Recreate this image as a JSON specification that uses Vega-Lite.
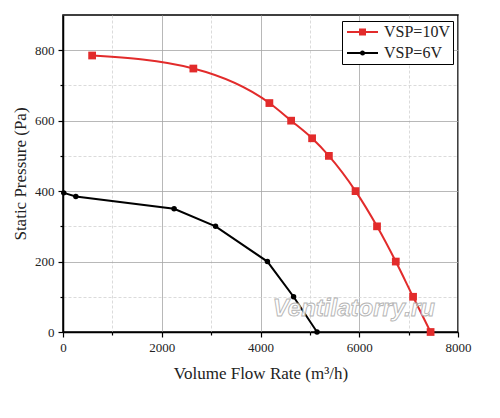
{
  "$schema": "https://vega.github.io/schema/vega-lite/v6.json",
  "width": 395,
  "height": 317,
  "autosize": {"type": "none"},
  "padding": {"left": 63, "top": 15, "right": 42, "bottom": 86},
  "background": "white",
  "config": {
    "view": {"stroke": "black", "strokeWidth": 1.5},
    "font": "Liberation Serif",
    "axis": {
      "domainColor": "black",
      "domainWidth": 1.5,
      "tickColor": "black",
      "tickWidth": 1.2,
      "labelFont": "Liberation Serif",
      "labelFontSize": 13,
      "labelColor": "#222",
      "labelPadding": 4,
      "labelFlush": false,
      "titleFont": "Liberation Serif",
      "titleFontSize": 17,
      "titleFontWeight": "normal",
      "titleColor": "#222",
      "gridWidth": 0.8
    }
  },
  "datasets": {
    "curves": [
      {"series": "VSP=10V", "flow": 590, "pressure": 785},
      {"series": "VSP=10V", "flow": 2640, "pressure": 748},
      {"series": "VSP=10V", "flow": 4180, "pressure": 650},
      {"series": "VSP=10V", "flow": 4620, "pressure": 600},
      {"series": "VSP=10V", "flow": 5045, "pressure": 550},
      {"series": "VSP=10V", "flow": 5385, "pressure": 500},
      {"series": "VSP=10V", "flow": 5925, "pressure": 400},
      {"series": "VSP=10V", "flow": 6360, "pressure": 300},
      {"series": "VSP=10V", "flow": 6740, "pressure": 200},
      {"series": "VSP=10V", "flow": 7090, "pressure": 100},
      {"series": "VSP=10V", "flow": 7445, "pressure": 0},
      {"series": "VSP=6V", "flow": 15, "pressure": 395},
      {"series": "VSP=6V", "flow": 260, "pressure": 385},
      {"series": "VSP=6V", "flow": 2250, "pressure": 350},
      {"series": "VSP=6V", "flow": 3090, "pressure": 300},
      {"series": "VSP=6V", "flow": 4140, "pressure": 200},
      {"series": "VSP=6V", "flow": 4670, "pressure": 100},
      {"series": "VSP=6V", "flow": 5145, "pressure": 0}
    ],
    "watermark": [
      {"label": "Ventilatorry.ru", "flow": 5890, "pressure": 65}
    ]
  },
  "encoding": {
    "x": {
      "field": "flow",
      "type": "quantitative",
      "title": "Volume Flow Rate (m³/h)",
      "scale": {"domain": [0, 8000], "nice": false},
      "axis": {
        "values": [0, 1000, 2000, 3000, 4000, 5000, 6000, 7000, 8000],
        "labelExpr": "datum.value % 2000 === 0 ? datum.label : ''",
        "format": "d",
        "titlePadding": 11,
        "gridDash": {"condition": {"test": "datum.value % 2000 !== 0", "value": [3, 2]}, "value": []},
        "gridColor": {"condition": {"test": "datum.value % 2000 !== 0", "value": "#d2d2d2"}, "value": "#a6a6a6"},
        "tickSize": {"condition": {"test": "datum.value % 2000 !== 0", "value": 3}, "value": 5}
      }
    },
    "y": {
      "field": "pressure",
      "type": "quantitative",
      "title": "Static Pressure (Pa)",
      "scale": {"domain": [0, 900], "nice": false},
      "axis": {
        "values": [0, 100, 200, 300, 400, 500, 600, 700, 800],
        "labelExpr": "datum.value % 200 === 0 ? datum.label : ''",
        "titlePadding": 5,
        "gridDash": {"condition": {"test": "datum.value % 200 !== 0", "value": [3, 2]}, "value": []},
        "gridColor": {"condition": {"test": "datum.value % 200 !== 0", "value": "#d2d2d2"}, "value": "#a6a6a6"},
        "tickSize": {"condition": {"test": "datum.value % 200 !== 0", "value": 3}, "value": 5}
      }
    }
  },
  "layer": [
    {
      "data": {"name": "curves"},
      "transform": [{"filter": "datum.series === 'VSP=10V'"}],
      "mark": {"type": "line", "interpolate": "monotone", "strokeWidth": 2},
      "encoding": {
        "color": {
          "field": "series",
          "type": "nominal",
          "scale": {"domain": ["VSP=10V", "VSP=6V"], "range": ["#e22b2b", "#000000"]},
          "legend": {
            "orient": "none",
            "legendX": 279,
            "legendY": 6,
            "title": null,
            "strokeColor": "black",
            "fillColor": "white",
            "padding": 3,
            "rowPadding": 5,
            "symbolSize": 100,
            "labelOffset": 23,
            "labelFont": "Liberation Serif",
            "labelFontSize": 16,
            "labelColor": "#222",
            "encode": {
              "symbols": {
                "update": {
                  "shape": {"signal": "datum.value === 'VSP=10V' ? 'M-1.2,0H5M1.4,-0.5H2.4V0.5H1.4Z' : 'M-1.2,0H5M1.6,0A0.3,0.3,0,1,0,2.2,0A0.3,0.3,0,1,0,1.6,0Z'"},
                  "fill": {"signal": "datum.value === 'VSP=10V' ? '#e22b2b' : '#000000'"},
                  "strokeWidth": {"value": 2},
                  "opacity": {"value": 1}
                }
              }
            }
          }
        }
      }
    },
    {
      "data": {"name": "curves"},
      "transform": [{"filter": "datum.series === 'VSP=6V'"}],
      "mark": {"type": "line", "interpolate": "linear", "strokeWidth": 2},
      "encoding": {"color": {"field": "series", "type": "nominal", "legend": null}}
    },
    {
      "data": {"name": "curves"},
      "transform": [{"filter": "datum.series === 'VSP=10V'"}],
      "mark": {"type": "point", "shape": "square", "size": 60, "filled": true, "opacity": 1},
      "encoding": {"color": {"field": "series", "type": "nominal", "legend": null}}
    },
    {
      "data": {"name": "curves"},
      "transform": [{"filter": "datum.series === 'VSP=6V'"}],
      "mark": {"type": "point", "shape": "circle", "size": 30, "filled": true, "opacity": 1},
      "encoding": {"color": {"field": "series", "type": "nominal", "legend": null}}
    },
    {
      "data": {"name": "watermark"},
      "mark": {
        "type": "text",
        "font": "Liberation Sans",
        "fontSize": 24,
        "fontStyle": "italic",
        "fontWeight": "bold",
        "fill": "white",
        "stroke": "#a8a8a8",
        "strokeWidth": 0.9,
        "opacity": 0.85
      },
      "encoding": {
        "text": {"field": "label"}
      }
    }
  ],
  "resolve": {"legend": {"color": "independent"}}
}
